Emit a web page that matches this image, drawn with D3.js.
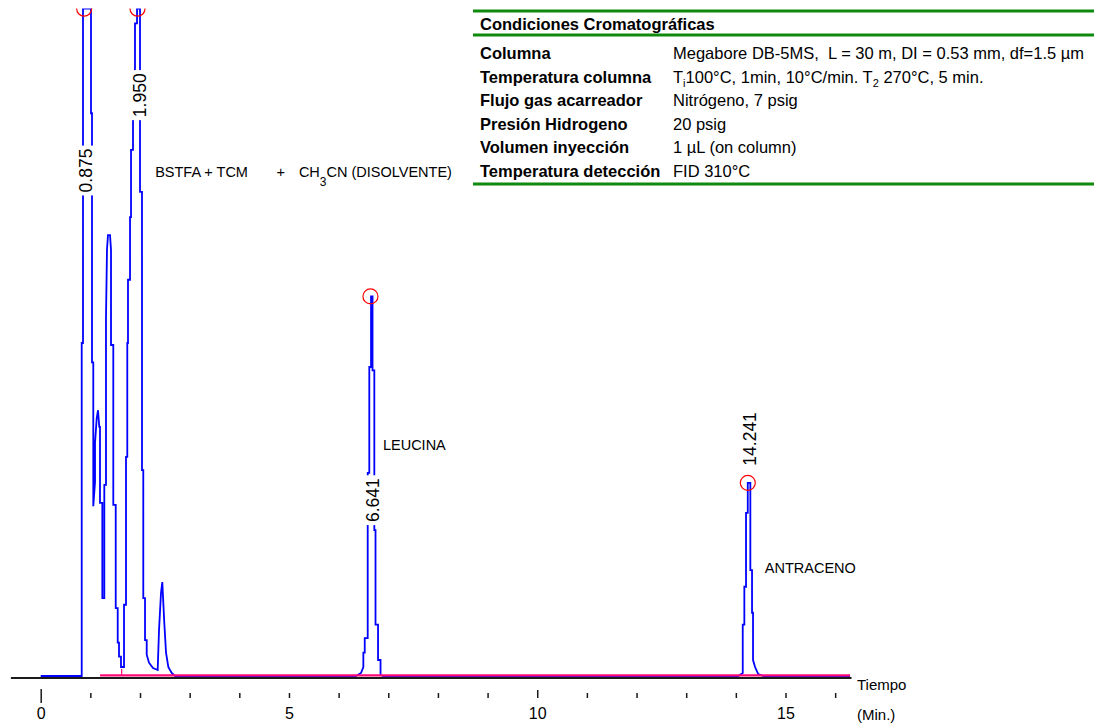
<!DOCTYPE html>
<html>
<head>
<meta charset="utf-8">
<script src="https://cdn.jsdelivr.net/npm/d3@7"></script>
<style>
  html, body { margin: 0; padding: 0; background: #fff; }
  svg { display: block; font-family: "Liberation Sans", Arial, sans-serif; }
  text { white-space: pre; }
</style>
</head>
<body>
<div id="container"></div>
<script>
// detector trace: time (min) / signal (% of full scale)
const traceTime = [
  0, 0.826, 0.826, 0.852, 0.852, 1.013, 1.013, 1.033, 1.033, 1.059,
  1.059, 1.094, 1.094, 1.128, 1.154, 1.180, 1.194, 1.194, 1.241, 1.241,
  1.281, 1.281, 1.315, 1.315, 1.335, 1.355, 1.396, 1.416, 1.416, 1.462,
  1.462, 1.511, 1.511, 1.551, 1.551, 1.577, 1.577, 1.617, 1.617, 1.678,
  1.678, 1.718, 1.718, 1.744, 1.744, 1.758, 1.758, 1.799, 1.799, 1.819,
  1.819, 1.859, 1.859, 1.899, 1.899, 1.940, 1.940, 2.000, 2.000, 2.040,
  2.040, 2.066, 2.066, 2.101, 2.101, 2.135, 2.135, 2.181, 2.262, 2.356,
  2.383, 2.423, 2.449, 2.489, 2.524, 2.570, 2.638, 2.705,
  6.350, 6.451, 6.498, 6.498, 6.526, 6.526, 6.586, 6.586, 6.618, 6.618,
  6.653, 6.653, 6.683, 6.683, 6.719, 6.719, 6.743, 6.743, 6.794, 6.794,
  6.844, 6.844, 6.900,
  14.050, 14.139, 14.139, 14.171, 14.171, 14.205, 14.205, 14.240, 14.240, 14.292,
  14.292, 14.326, 14.326, 14.346, 14.346, 14.387, 14.450, 14.554,
  16.30
];
const traceSignal = [
  0, 0, 50.0, 50.0, 100.2, 100.2, 84.5, 84.5, 47.1, 47.1,
  25.5, 29.1, 35.0, 38.7, 39.9, 37.4, 37.4, 26.0, 26.0, 11.7,
  11.7, 28.7, 28.7, 53.8, 64.0, 66.2, 66.2, 64.0, 49.7, 49.7,
  25.7, 25.7, 10.2, 10.2, 5.0, 5.0, 2.9, 2.9, 1.35, 1.35,
  10.7, 10.7, 32.9, 32.9, 50.0, 50.0, 59.5, 59.5, 68.9, 68.9,
  79.0, 79.0, 83.2, 91.4, 98.0, 98.0, 100.2, 100.2, 72.7, 72.7,
  30.9, 30.9, 11.7, 11.7, 5.4, 5.4, 3.2, 2.0, 1.2, 0.9,
  6.9, 12.5, 14.1, 8.0, 3.5, 1.35, 0.45, 0,
  0, 0.45, 1.35, 3.5, 3.5, 5.7, 5.7, 30.5, 30.5, 46.4,
  46.4, 57.0, 57.0, 45.9, 45.9, 21.9, 21.9, 7.7, 7.7, 2.4,
  2.4, 0.15, 0,
  0, 0.45, 7.7, 7.7, 13.4, 13.4, 24.5, 24.5, 29.0, 29.0,
  15.9, 15.9, 9.5, 9.5, 2.4, 1.35, 0.3, 0,
  0
];

// integration baseline + valley drop line
const baseTime = [1.196, 16.30];
const dropTime = 1.631, dropSignal = 1.05;

// marked peaks
const peakTimes = [0.875, 1.950, 6.641, 14.241];
const peakHeights = [100.2, 100.2, 57.0, 29.0];
const peakNames = ['', '', 'LEUCINA', 'ANTRACENO'];

const tickMinutes = d3.range(0, 17);
const tickLabels = [0, 5, 10, 15];

const condTitle = 'Condiciones Cromatográficas';
const condLabels = ['Columna', 'Temperatura columna', 'Flujo gas acarreador',
  'Presión Hidrogeno', 'Volumen inyección', 'Temperatura detección'];
const condValues = ['Megabore DB-5MS,  L = 30 m, DI = 0.53 mm, df=1.5 µm',
  'T{i}100°C, 1min, 10°C/min. T{2} 270°C, 5 min.', 'Nitrógeno, 7 psig',
  '20 psig', '1 µL (on column)', 'FID 310°C'];

const width = 1098, height = 727;
const svg = d3.select('#container').append('svg').attr('width', width).attr('height', height);

const x = d3.scaleLinear().domain([0, 15]).range([40.7, 785.5]);
const y = d3.scaleLinear().domain([0, 100]).range([676, 10]);

svg.append('clipPath').attr('id', 'plot')
  .append('rect').attr('x', 0).attr('y', 8.5).attr('width', width).attr('height', height);

// time axis
svg.append('line')
  .attr('x1', x(-0.6)).attr('x2', x(16.33))
  .attr('y1', 678).attr('y2', 678)
  .style('stroke', '#1a1a1a').style('stroke-width', 2);

const axis = svg.append('g')
  .attr('transform', 'translate(0, 693)')
  .call(d3.axisBottom(x).tickValues(tickMinutes).tickSize(5).tickPadding(10)
    .tickFormat(d => tickLabels.includes(d) ? d : ''));
axis.select('.domain').remove();
axis.selectAll('.tick line').style('stroke', '#1a1a1a').style('stroke-width', 1.5)
  .attr('y1', d => d === 0 ? -4 : d === 10 ? -3 : 0)
  .attr('y2', d => d === 0 ? 10 : 5);
axis.selectAll('.tick text').style('font-size', '16px').style('fill', '#000')
  .style('font-family', '"Liberation Sans", Arial, sans-serif');

svg.append('text').attr('x', x(16.44)).attr('y', 690).style('font-size', '15px').text('Tiempo');
svg.append('text').attr('x', x(16.44)).attr('y', 720).style('font-size', '15px').text('(Min.)');

// trace
const plot = svg.append('g').attr('clip-path', 'url(#plot)');
const line = d3.line().x(i => x(traceTime[i])).y(i => y(traceSignal[i]));
plot.append('path')
  .attr('d', line(d3.range(traceTime.length)))
  .style('fill', 'none').style('stroke', '#0000ff').style('stroke-width', 1.8)
  .style('stroke-linejoin', 'miter');

// baseline in pink
plot.append('line')
  .attr('x1', x(baseTime[0])).attr('x2', x(baseTime[1]))
  .attr('y1', y(0.08)).attr('y2', y(0.08))
  .style('stroke', '#ff0a78').style('stroke-width', 2.2);
plot.append('line')
  .attr('x1', x(dropTime)).attr('x2', x(dropTime))
  .attr('y1', y(0)).attr('y2', y(dropSignal))
  .style('stroke', '#ff0a78').style('stroke-width', 1.2);

// apex circles
plot.selectAll('circle.apex')
  .data(peakTimes)
  .enter()
  .append('circle')
  .attr('cx', d => x(d)).attr('cy', (d, i) => y(peakHeights[i]))
  .attr('r', 7.5)
  .style('fill', 'none').style('stroke', '#ff0000').style('stroke-width', 1.2);

// retention time labels, rotated, knocking out the trace behind them
const rtLabelAt = [75.9, 87.2, 26.4, 35.6];
peakTimes.forEach((t, i) => {
  const g = svg.append('g').attr('transform', `translate(${x(t) + 2}, ${y(rtLabelAt[i])}) rotate(-90)`);
  const txt = g.append('text').attr('text-anchor', 'middle').attr('dy', '0.36em')
    .style('font-size', '17.5px').text(t.toFixed(3));
  const bb = txt.node().getBBox();
  g.insert('rect', 'text')
    .attr('x', bb.x - 3).attr('y', -9).attr('width', bb.width + 6).attr('height', 18)
    .attr('fill', '#fff');
});

// compound names
const nameAt = [[0, 0], [0, 0], [12.5, 33.9], [17, 15.5]];
peakNames.forEach((n, i) => {
  if (!n) return;
  svg.append('text').attr('x', x(peakTimes[i]) + nameAt[i][0]).attr('y', y(nameAt[i][1]))
    .style('font-size', '14.5px').text(n);
});

// solvent annotation
const solv = svg.append('text').attr('x', x(2.305)).attr('y', y(74.9)).style('font-size', '14.5px');
solv.append('tspan').text('BSTFA + TCM');
solv.append('tspan').attr('x', x(4.75)).text('+');
solv.append('tspan').attr('x', x(5.2)).text('CH');
solv.append('tspan').attr('dy', 9).style('font-size', '12px').text('3');
solv.append('tspan').attr('dy', -9).text('CN (DISOLVENTE)');

// conditions table
const tLeft = 473, tRight = 1094, green = '#0f8a0f';
[11, 35, 184].forEach(yy => {
  svg.append('line').attr('x1', tLeft).attr('x2', tRight).attr('y1', yy).attr('y2', yy)
    .style('stroke', green).style('stroke-width', 3);
});
svg.append('text').attr('x', 480).attr('y', 30)
  .style('font-size', '16.5px').style('font-weight', 'bold').text(condTitle);

const rows = svg.selectAll('g.row')
  .data(condLabels)
  .enter()
  .append('g')
  .attr('transform', (d, i) => `translate(0, ${59 + i * 23.6})`);

rows.append('text').attr('x', 480)
  .style('font-size', '16.5px').style('font-weight', 'bold')
  .text(d => d);

// values; {x} marks a subscript
rows.append('text').attr('x', 673).style('font-size', '16.5px')
  .each(function (d, i) {
    const el = d3.select(this);
    let shift = 0;
    condValues[i].split(/(\{[^}]*\})/).forEach(part => {
      if (!part) return;
      if (part[0] === '{') {
        el.append('tspan').attr('dy', 4 - shift).style('font-size', '11px').text(part.slice(1, -1));
        shift = 4;
      } else {
        el.append('tspan').attr('dy', -shift).text(part);
        shift = 0;
      }
    });
  });
</script>
</body>
</html>
